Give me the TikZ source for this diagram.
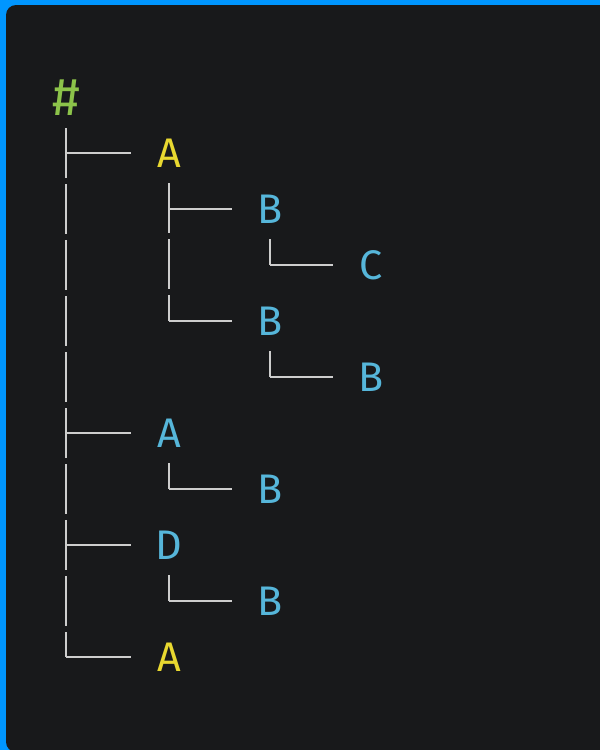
\documentclass[tikz,border=0pt]{standalone}
\usepackage{fontspec}
\setmainfont{Fira Sans}
\usetikzlibrary{calc}
\definecolor{framebl}{RGB}{0,150,255}
\definecolor{termbg}{RGB}{24,25,27}
\definecolor{hashgr}{RGB}{140,195,74}
\definecolor{keyyel}{RGB}{232,216,48}
\definecolor{keycy}{RGB}{86,182,218}
\definecolor{treegray}{RGB}{205,205,205}

\begin{document}
\begin{tikzpicture}[x=0.75pt,y=-0.75pt,
  lbl/.style={font=\fontsize{31}{31}\selectfont,inner sep=0pt,anchor=center},
  trunk/.style={draw=treegray,line width=2.2pt,dash pattern=on 37.5pt off 4.5pt},
  arm/.style={draw=treegray,line width=2.2pt}]
\useasboundingbox (0,0) rectangle (600,750);
% frame and terminal card
\fill[framebl] (0,0) rectangle (600,750);
\fill[termbg,rounded corners=7.5pt] (6,5) rectangle (612,752);
% labels: name/level/row/colour/text
\node[lbl,text=hashgr,font=\fontsize{40}{40}\selectfont] (root) at (66,98) {\#};
\foreach \n/\l/\r/\c/\t in {a1/1/1/keyyel/A, b1/2/2/keycy/B, c1/3/3/keycy/C,
  b2/2/4/keycy/B, b3/3/5/keycy/B, a2/1/6/keycy/A, b4/2/7/keycy/B,
  d1/1/8/keycy/D, b5/2/9/keycy/B, a3/1/10/keyyel/A}
  \node[lbl,text=\c] (\n) at ({68+101*\l},{97+56*\r}) {\t};
% branches: parent/child
\foreach \p/\k in {root/a1, a1/b1, b1/c1, a1/b2, b2/b3, root/a2, a2/b4,
  root/d1, d1/b5, root/a3} {
  \draw[trunk] ($(\p.center)+(0,30)$) -- (\p.center |- \k.center);
  \draw[arm] (\p.center |- \k.center) -- ($(\k.center)+(-38,0)$);
}
\end{tikzpicture}
\end{document}
